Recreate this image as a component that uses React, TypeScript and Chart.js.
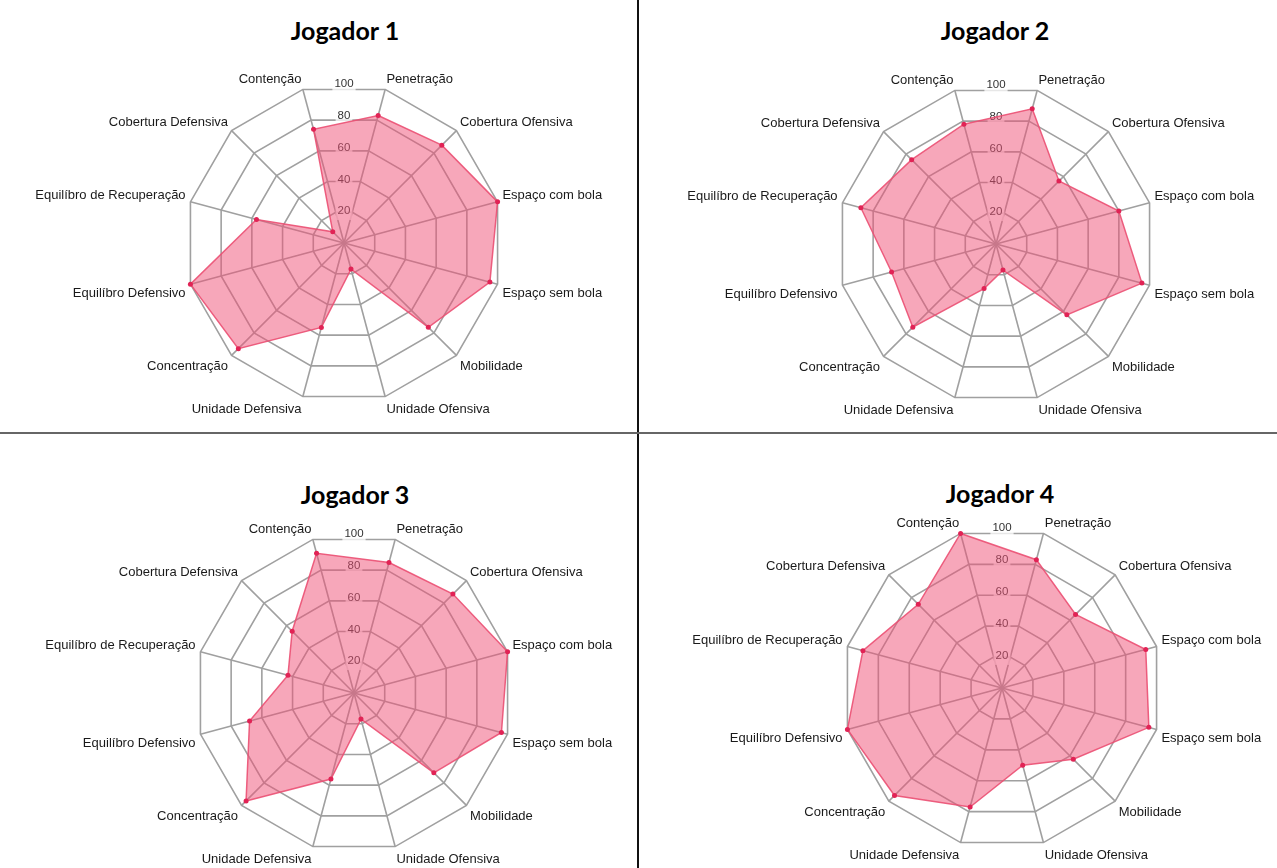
import React, { useEffect, useRef } from "react";
import { Chart, registerables } from "chart.js";

Chart.register(...registerables);

const categories = [
  "Penetração",
  "Cobertura Ofensiva",
  "Espaço com bola",
  "Espaço sem bola",
  "Mobilidade",
  "Unidade Ofensiva",
  "Unidade Defensiva",
  "Concentração",
  "Equilíbro Defensivo",
  "Equilíbro de Recuperação",
  "Cobertura Defensiva",
  "Contenção",
];

const tickValues = [20, 40, 60, 80, 100];

const jogador1 = [83, 87, 100, 95, 75, 17, 55, 94, 100, 57, 10, 74];
const jogador2 = [88, 56, 80, 95, 63, 17, 29, 74, 68, 88, 75, 78];
const jogador3 = [85, 88, 100, 96, 71, 17, 56, 96, 68, 43, 55, 91];
const jogador4 = [83, 65, 93, 95, 63, 50, 77, 95, 100, 90, 74, 100];

const titles = ["Jogador 1", "Jogador 2", "Jogador 3", "Jogador 4"];

const CANVAS_W = 720;
const UPPER_LABELS = [0, 1, 2, 9, 10, 11];

const panels = [
  { title: titles[0], values: jogador1, cx: 344, cy: 243, h: 348, tx: 345, ty: 30 },
  { title: titles[1], values: jogador2, cx: 996, cy: 244, h: 348, tx: 995, ty: 30 },
  { title: titles[2], values: jogador3, cx: 354, cy: 693, h: 348, tx: 355, ty: 494 },
  { title: titles[3], values: jogador4, cx: 1002, cy: 688, h: 350, tx: 1000, ty: 493 },
];

const verticalTicks = {
  id: "verticalTicks",
  beforeDatasetsDraw(chart: any) {
    const s = chart.scales.r;
    const ctx = chart.ctx;
    const size = 11.5;
    ctx.save();
    ctx.font = `${size}px 'Liberation Sans', Arial, sans-serif`;
    ctx.textAlign = "center";
    ctx.textBaseline = "middle";
    tickValues.forEach((v) => {
      const y = s.yCenter - s.getDistanceFromCenterForValue(v);
      const label = String(v);
      const w = ctx.measureText(label).width;
      const lh = size * 1.2;
      ctx.fillStyle = "rgba(255,255,255,0.75)";
      ctx.fillRect(s.xCenter - w / 2 - 2, y - lh / 2 - 2, w + 4, lh + 4);
      ctx.fillStyle = "#333";
      ctx.fillText(label, s.xCenter, y);
    });
    ctx.restore();
  },
};

function RadarPanel({ p }: { p: (typeof panels)[number] }) {
  const ref = useRef<HTMLCanvasElement>(null);
  useEffect(() => {
    const canvas = ref.current as HTMLCanvasElement;
    const chart = new Chart(canvas, {
      type: "radar",
      data: {
        labels: categories,
        datasets: [
          {
            label: p.title,
            data: p.values,
            backgroundColor: "rgba(240, 80, 118, 0.5)",
            borderColor: "rgba(235, 80, 115, 0.9)",
            borderWidth: 1.5,
            pointBackgroundColor: "rgb(225, 35, 85)",
            pointBorderWidth: 0,
            pointRadius: 2.5,
            fill: true,
          },
        ],
      },
      options: {
        responsive: false,
        animation: false,
        plugins: {
          legend: { display: false },
          tooltip: { enabled: false },
        },
        scales: {
          r: {
            min: 0,
            max: 100,
            startAngle: 15,
            ticks: { display: false, stepSize: 20 },
            grid: { color: "#a0a0a0", lineWidth: 1.6 },
            angleLines: { color: "#a0a0a0", lineWidth: 1.6 },
            pointLabels: {
              color: "#1a1a1a",
              padding: 5,
              font: (c: any) => ({
                size: 13,
                family: "'Liberation Sans', Arial, sans-serif",
                lineHeight: UPPER_LABELS.includes(c.index) ? 0.75 : 1.2,
              }),
            },
          },
        },
      },
      plugins: [verticalTicks],
    });
    const s: any = chart.scales.r;
    canvas.style.left = `${p.cx - s.xCenter}px`;
    canvas.style.top = `${p.cy - s.yCenter}px`;
    return () => chart.destroy();
  }, []);
  return (
    <canvas
      ref={ref}
      width={CANVAS_W}
      height={p.h}
      style={{
        position: "absolute",
        left: p.cx - CANVAS_W / 2,
        top: p.cy - p.h / 2,
        width: CANVAS_W,
        height: p.h,
      }}
    />
  );
}

export default function App() {
  return (
    <div
      style={{
        position: "absolute",
        left: 0,
        top: 0,
        width: 1277,
        height: 868,
        overflow: "hidden",
        background: "#fff",
      }}
    >
      {panels.map((p, i) => (
        <RadarPanel key={i} p={p} />
      ))}
      {panels.map((p, i) => (
        <div
          key={"t" + i}
          style={{
            position: "absolute",
            left: p.tx - 150,
            top: p.ty - 17,
            width: 300,
            height: 34,
            lineHeight: "34px",
            textAlign: "center",
            fontFamily: "Lato, 'Open Sans', sans-serif",
            fontWeight: 700,
            fontSize: 25,
            color: "#000",
          }}
        >
          {p.title}
        </div>
      ))}
      <div style={{ position: "absolute", left: 637, top: 0, width: 2, height: 868, background: "#111" }} />
      <div style={{ position: "absolute", left: 0, top: 432, width: 1277, height: 2, background: "#666" }} />
    </div>
  );
}
